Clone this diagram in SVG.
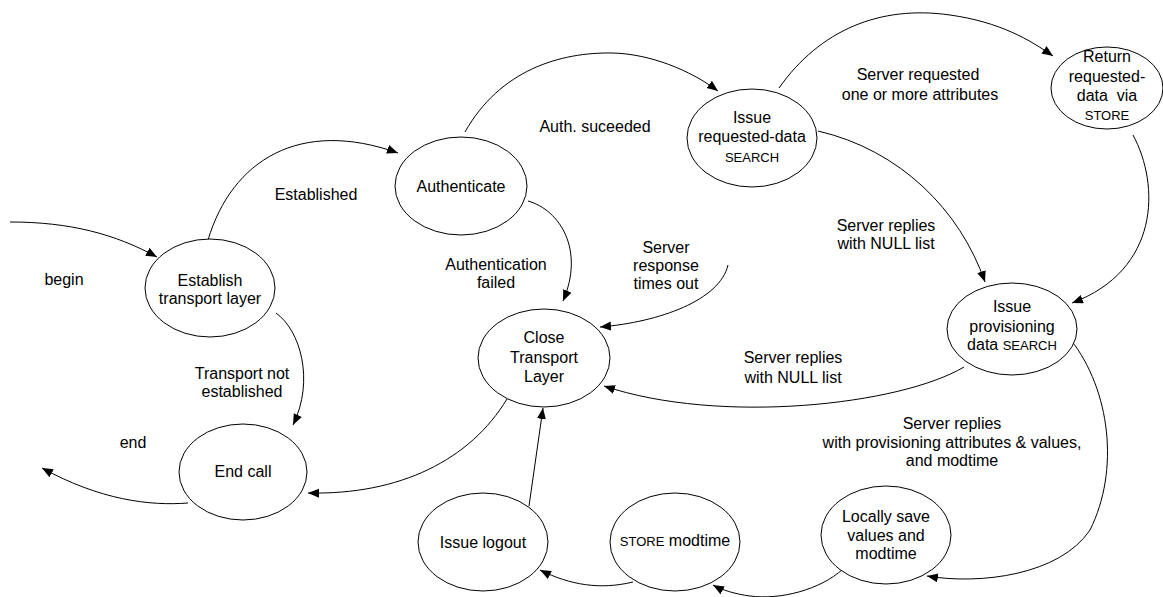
<svg xmlns="http://www.w3.org/2000/svg" width="1163" height="597" viewBox="0 0 1163 597">
<style>
.n ellipse{fill:#fff;stroke:#000;stroke-width:1}
text{font-family:"Liberation Sans",Arial,sans-serif;font-size:16px;fill:#000;text-anchor:middle}
.s{font-size:13px}
#connectors path{fill:none;stroke:#000;stroke-width:1;marker-end:url(#ah)}
</style>
<defs>
<marker id="ah" markerUnits="userSpaceOnUse" markerWidth="12" markerHeight="10" refX="11" refY="4.5" orient="auto">
<path d="M0,0 L11,4.5 L0,9 z" fill="#000"/>
</marker>
</defs>
<g id="connectors">
<path d="M10,222 C 70,222 115,234 157,257"/>
<path d="M208,240 C 232,160 300,118 398,153"/>
<path d="M465,132 C 500,70 560,52 613,53 C 650,54 690,70 718,91"/>
<path d="M779,88 C 820,30 880,5 950,15 C 1000,22 1030,40 1053,56"/>
<path d="M818,131 C 900,150 960,210 985,282"/>
<path d="M1133,135 C 1160,185 1160,270 1072,303"/>
<path d="M964,367 C 900,405 720,425 604,386"/>
<path d="M1071,340 C 1110,390 1120,470 1090,530 C 1060,575 980,585 927,576"/>
<path d="M843,569 C 820,590 780,600 750,596 C 735,594 722,590 713,585"/>
<path d="M633,582 C 600,590 570,585 540,570"/>
<path d="M529,506 L 543,408"/>
<path d="M507,399 C 470,460 400,495 308,493"/>
<path d="M528,201 C 560,210 585,250 563,301"/>
<path d="M728,265 C 720,300 660,322 600,327"/>
<path d="M188,503 C 150,506 100,500 42,468"/>
<path d="M276,313 C 300,330 315,380 293,425"/>
</g>
<g id="labels">
<text x="64" y="285">begin</text>
<text x="316" y="200">Established</text>
<text x="595" y="132">Auth. suceeded</text>
<text x="918" y="80">Server requested</text>
<text x="920" y="100">one or more attributes</text>
<text x="886" y="231">Server replies</text>
<text x="886" y="249">with NULL list</text>
<text x="496" y="270">Authentication</text>
<text x="496" y="288">failed</text>
<text x="666" y="253">Server</text>
<text x="666" y="271">response</text>
<text x="666" y="289">times out</text>
<text x="793" y="363">Server replies</text>
<text x="793" y="383">with NULL list</text>
<text x="952" y="429">Server replies</text>
<text x="952" y="448">with provisioning attributes &amp; values,</text>
<text x="952" y="466">and modtime</text>
<text x="242" y="379">Transport not</text>
<text x="242" y="397">established</text>
<text x="133" y="448">end</text>
</g>
<g id="establish" class="n"><ellipse cx="210" cy="288" rx="65" ry="49"/><text x="210" y="286">Establish</text><text x="210" y="304">transport layer</text></g>
<g id="endcall" class="n"><ellipse cx="243" cy="472" rx="64" ry="48"/><text x="243" y="477">End call</text></g>
<g id="authenticate" class="n"><ellipse cx="461" cy="186" rx="66" ry="49"/><text x="461" y="192">Authenticate</text></g>
<g id="issuerequested" class="n"><ellipse cx="752" cy="138" rx="65" ry="49"/><text x="752" y="123">Issue</text><text x="752" y="142">requested-data</text><text class="s" x="752" y="162">SEARCH</text></g>
<g id="returnrequested" class="n"><ellipse cx="1107" cy="88" rx="56" ry="41"/><text x="1107" y="62">Return</text><text x="1107" y="82">requested-</text><text x="1107" y="101" xml:space="preserve">data  via</text><text class="s" x="1107" y="120">STORE</text></g>
<g id="issueprov" class="n"><ellipse cx="1012" cy="329" rx="65" ry="46"/><text x="1012" y="312">Issue</text><text x="1012" y="332">provisioning</text><text x="1012" y="350">data <tspan class="s">SEARCH</tspan></text></g>
<g id="closetransport" class="n"><ellipse cx="544" cy="358" rx="66" ry="49"/><text x="544" y="343">Close</text><text x="544" y="363">Transport</text><text x="544" y="382">Layer</text></g>
<g id="logout" class="n"><ellipse cx="483" cy="542" rx="65" ry="49"/><text x="483" y="548">Issue logout</text></g>
<g id="storemodtime" class="n"><ellipse cx="675" cy="542" rx="65" ry="49"/><text x="675" y="546"><tspan class="s">STORE</tspan> modtime</text></g>
<g id="locallysave" class="n"><ellipse cx="886" cy="535" rx="65" ry="49"/><text x="886" y="522">Locally save</text><text x="886" y="541">values and</text><text x="886" y="559">modtime</text></g>
</svg>
